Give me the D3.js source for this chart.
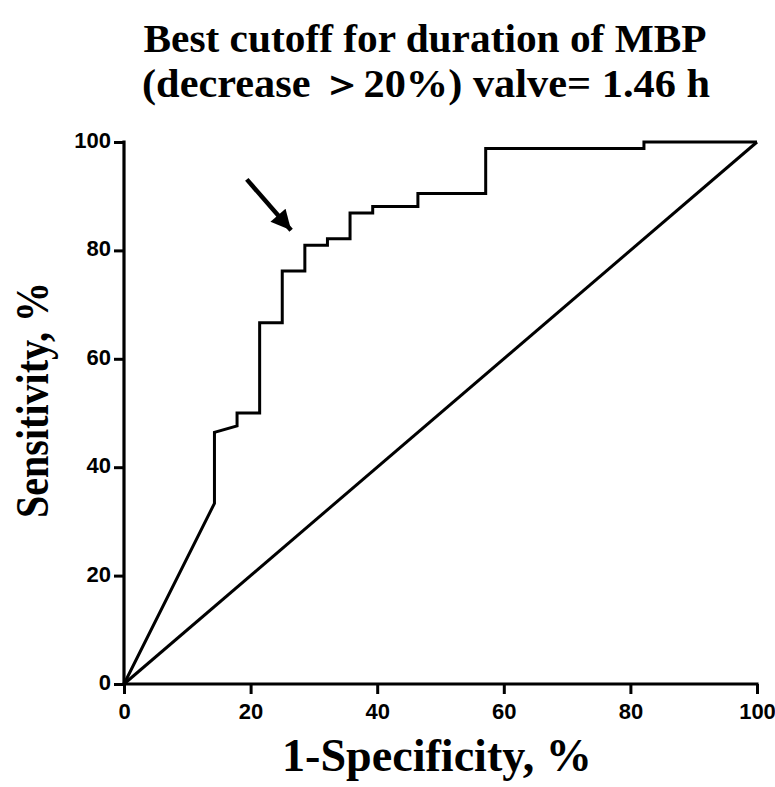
<!DOCTYPE html>
<html>
<head>
<meta charset="utf-8">
<script src="https://cdn.jsdelivr.net/npm/d3@7"></script>
<style>
  html, body { margin: 0; padding: 0; background: #fff; }
  svg { display: block; }
</style>
</head>
<body>
<svg id="chart" width="775" height="787"></svg>
<script>
// ---- Data ----
const fpr = [0, 14.29, 14.29, 17.86, 17.86, 21.43, 21.43, 25.00, 25.00, 28.57, 28.57, 32.14, 32.14, 35.71, 35.71, 39.29, 39.29, 46.43, 46.43, 57.14, 57.14, 82.14, 82.14, 100];
const tpr = [0, 33.33, 46.43, 47.62, 50.00, 50.00, 66.67, 66.67, 76.19, 76.19, 80.95, 80.95, 82.14, 82.14, 86.90, 86.90, 88.10, 88.10, 90.48, 90.48, 98.81, 98.81, 100, 100];
const refX = [0, 100];
const refY = [0, 100];
const arrowX = [19.4, 26.4];
const arrowY = [93.1, 83.7];
const xTicks = [0, 20, 40, 60, 80, 100];
const yTicks = [0, 20, 40, 60, 80, 100];
const titleLines = ["Best cutoff for duration of MBP", "(decrease \uFF1E20%) valve= 1.46 h"];
const xTitle = "1-Specificity, %";
const yTitle = "Sensitivity, %";

// ---- Layout ----
const svg = d3.select("#chart");
const x = d3.scaleLinear().domain([0, 100]).range([124, 757]);
const y = d3.scaleLinear().domain([0, 100]).range([684, 142]);

const serif = "'Liberation Serif', 'Times New Roman', serif";
const sans = "'Liberation Sans', Arial, sans-serif";

// Title
const titleCfg = [{base: 52, len: 563, cx: 425}, {base: 97, len: 568, cx: 426}];
titleLines.forEach((t, i) => {
  svg.append("text")
    .attr("x", titleCfg[i].cx).attr("y", titleCfg[i].base)
    .attr("text-anchor", "middle")
    .attr("font-family", serif).attr("font-weight", "bold")
    .attr("font-size", 40)
    .attr("textLength", titleCfg[i].len).attr("lengthAdjust", "spacingAndGlyphs")
    .attr("fill", "#000")
    .text(t);
});

// Axes
const xAxis = d3.axisBottom(x).tickValues(xTicks).tickSizeOuter(0).tickSize(10).tickPadding(9);
const yAxis = d3.axisLeft(y).tickValues(yTicks).tickSizeOuter(0).tickSize(10).tickPadding(3);

const gx = svg.append("g").attr("transform", `translate(0,${y(0)})`).call(xAxis);
const gy = svg.append("g").attr("transform", `translate(${x(0)},0)`).call(yAxis);
[gx, gy].forEach(g => {
  g.attr("font-size", 22);
  g.select(".domain").attr("stroke", "#000").attr("stroke-width", 3.2);
  g.selectAll(".tick line").attr("stroke", "#000").attr("stroke-width", 3);
  g.selectAll(".tick text")
    .attr("font-family", sans).attr("font-weight", "bold")
    .attr("font-size", 22).attr("fill", "#000");
});
gy.selectAll(".tick text").attr("dy", "0.25em");
gx.select(".domain").attr("d", `M${x(0) - 1.5},0H${x(100) + 1.5}`);
gy.select(".domain").attr("d", `M0,${y(0) + 1.5}V${y(100) - 1.5}`);

// Axis titles
svg.append("text")
  .attr("x", 437).attr("y", 771)
  .attr("text-anchor", "middle")
  .attr("font-family", serif).attr("font-weight", "bold")
  .attr("font-size", 46)
  .attr("textLength", 310).attr("lengthAdjust", "spacingAndGlyphs")
  .attr("fill", "#000")
  .text(xTitle);

svg.append("text")
  .attr("transform", "translate(48,400) rotate(-90)")
  .attr("text-anchor", "middle")
  .attr("font-family", serif).attr("font-weight", "bold")
  .attr("font-size", 46)
  .attr("textLength", 236).attr("lengthAdjust", "spacingAndGlyphs")
  .attr("fill", "#000")
  .text(yTitle);

// Lines
const line = d3.line().x(d => x(d[0])).y(d => y(d[1]));
svg.append("path")
  .datum(refX.map((v, i) => [v, refY[i]]))
  .attr("d", line)
  .attr("fill", "none").attr("stroke", "#000").attr("stroke-width", 3);

svg.append("path")
  .datum(fpr.map((v, i) => [v, tpr[i]]))
  .attr("d", line)
  .attr("fill", "none").attr("stroke", "#000").attr("stroke-width", 3)
  .attr("stroke-linejoin", "miter");

// Arrow
const defs = svg.append("defs");
defs.append("marker")
  .attr("id", "ah")
  .attr("viewBox", "0 0 10 10")
  .attr("refX", 10).attr("refY", 5)
  .attr("markerUnits", "userSpaceOnUse")
  .attr("markerWidth", 22).attr("markerHeight", 20)
  .attr("orient", "auto")
  .append("path").attr("d", "M0,0L10,5L0,10Z").attr("fill", "#000");

svg.append("path")
  .datum(arrowX.map((v, i) => [v, arrowY[i]]))
  .attr("d", line)
  .attr("fill", "none").attr("stroke", "#000").attr("stroke-width", 4.5)
  .attr("marker-end", "url(#ah)");
</script>
</body>
</html>
